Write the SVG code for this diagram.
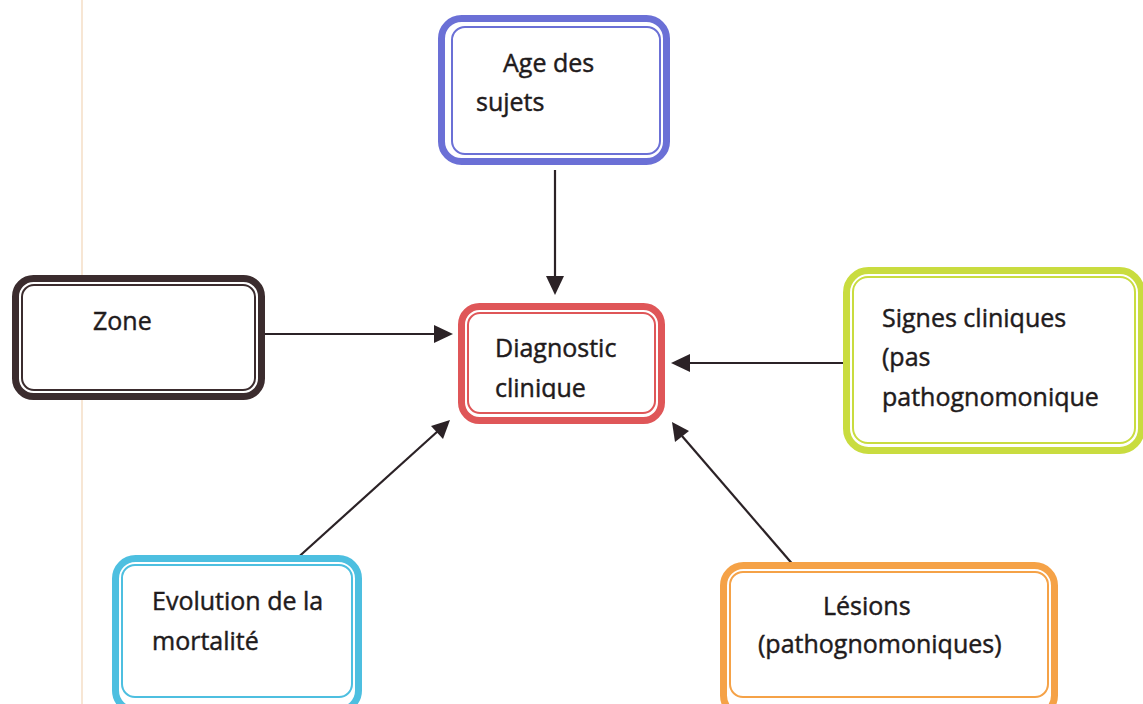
<svg xmlns="http://www.w3.org/2000/svg" width="1143" height="704" viewBox="0 0 1143 704">
<style>
.outer{fill:#fff;stroke-width:7}
.inner{fill:none;stroke-width:2}
.t{font-family:"Open Sans","Noto Sans","Liberation Sans",sans-serif;font-size:25px;fill:#1f1b1c;stroke:#1f1b1c;stroke-width:0.45}
.ln{stroke:#2b2226;stroke-width:2.2;fill:none}
.hd{fill:#2b2226}
</style>
<defs>
<clipPath id="clipDiag"><rect x="468" y="313" width="187" height="86"/></clipPath>
</defs>
<rect width="1143" height="704" fill="#fff"/>
<line x1="82" y1="0" x2="82" y2="704" stroke="#f2d6b8" stroke-width="1.2"/>

<g id="connectors">
<line class="ln" x1="555" y1="170" x2="555" y2="278"/>
<path class="hd" d="M546,276 L564,276 L555,295 z"/>
<line class="ln" x1="265" y1="334" x2="436" y2="334"/>
<path class="hd" d="M434,325 L453,334 L434,343 z"/>
<line class="ln" x1="843" y1="363" x2="688" y2="363"/>
<path class="hd" d="M690,354 L671,363 L690,372 z"/>
<line class="ln" x1="293" y1="562" x2="438" y2="431"/>
<path class="hd" d="M450,420 L431,426 L443,439 z"/>
<line class="ln" x1="795" y1="567" x2="682" y2="436"/>
<path class="hd" d="M672,422 L675,442 L689,431 z"/>
</g>

<g id="node-age">
<rect class="outer" x="441.5" y="18.5" width="225" height="143" rx="20" stroke="#6b70d6"/>
<rect class="inner" x="452" y="27" width="208" height="127" rx="13" stroke="#6b70d6"/>
<text class="t" x="503" y="72">Age des</text>
<text class="t" x="476" y="111">sujets</text>
</g>

<g id="node-zone">
<rect class="outer" x="15.5" y="278.5" width="246" height="118" rx="18" stroke="#3b2c2e"/>
<rect class="inner" x="22" y="285" width="233" height="105" rx="12" stroke="#3b2c2e"/>
<text class="t" x="93" y="330">Zone</text>
</g>

<g id="node-diagnostic">
<rect class="outer" x="461.5" y="306.5" width="200" height="114" rx="18" stroke="#df5658"/>
<rect class="inner" x="468" y="313" width="187" height="100" rx="12" stroke="#df5658"/>
<text class="t" x="495" y="357">Diagnostic</text>
<text class="t" x="495" y="397" clip-path="url(#clipDiag)">clinique</text>
</g>

<g id="node-signes">
<rect class="outer" x="846.5" y="270.5" width="295" height="180" rx="22" stroke="#c9dc3f"/>
<rect class="inner" x="853" y="277" width="282" height="166" rx="15" stroke="#c9dc3f"/>
<text class="t" x="882" y="327">Signes cliniques</text>
<text class="t" x="882" y="366">(pas</text>
<text class="t" x="882" y="406">pathognomonique</text>
</g>

<g id="node-evolution">
<rect class="outer" x="115.5" y="558.5" width="243" height="152" rx="20" stroke="#4dbfe0"/>
<rect class="inner" x="122" y="565" width="230" height="132" rx="13" stroke="#4dbfe0"/>
<text class="t" x="152" y="610">Evolution de la</text>
<text class="t" x="152" y="650">mortalité</text>
</g>

<g id="node-lesions">
<rect class="outer" x="723.5" y="565.5" width="331" height="150" rx="20" stroke="#f5a247"/>
<rect class="inner" x="730" y="572" width="318" height="125" rx="13" stroke="#f5a247"/>
<text class="t" x="823" y="615">Lésions</text>
<text class="t" x="758" y="653">(pathognomoniques)</text>
</g>
</svg>
